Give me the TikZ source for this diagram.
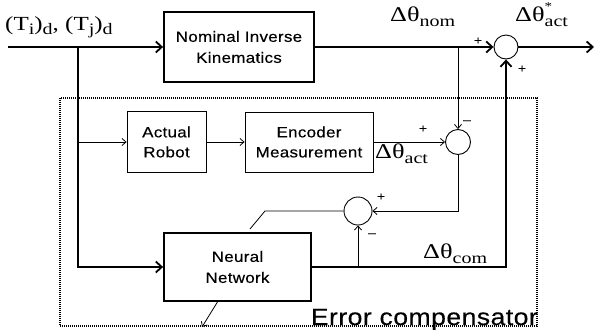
\documentclass[tikz,border=0pt]{standalone}
\usepackage{fontspec}
\setmainfont[FakeStretch=1.25]{Liberation Serif}
\newfontfamily\blockfont[FakeStretch=1.13,LetterSpace=2,FakeBold=0.3]{Liberation Sans}
\usetikzlibrary{arrows.meta}

% lowered / raised pieces for the signal names
\newcommand\lsub[2][4]{\raisebox{-#1pt}{\fontsize{16}{16}\selectfont #2}}
\newcommand\sigfont{\fontsize{21}{21}\selectfont}

\tikzset{
  heavy/.style={line width=1.8pt},
  light/.style={line width=0.8pt},
  bigtip/.style={-{Straight Barb[length=6pt,width=11pt]}},
  smalltip/.style={-{Straight Barb[length=4pt,width=7pt]}},
  block/.style={draw, rectangle, align=center, inner sep=0pt,
    font=\blockfont\fontsize{15}{21}\selectfont},
  heavyblock/.style={block, line width=1.8pt},
  lightblock/.style={block, line width=0.8pt, font=\blockfont\fontsize{15}{20}\selectfont},
  summer/.style={draw, circle, inner sep=0pt, line width=0.9pt},
  sign/.style={inner sep=0pt, font=\blockfont\fontsize{12}{12}\selectfont},
  signal/.style={inner sep=0pt, anchor=base west},
  dotbox/.style={draw, dash pattern=on 1pt off 1pt, line width=1.1pt, inner sep=0pt}
}

\begin{document}
\begin{tikzpicture}[x=1pt,y=-1pt]
  \useasboundingbox (0,0) rectangle (595,330);

  % error compensator frame
  \node[dotbox, minimum width=477pt, minimum height=228pt] (ec) at (298.5,212) {};
  \node[anchor=base east, inner sep=0pt,
        font=\blockfont\fontsize{23.5}{24}\selectfont] (eclabel) at (538,325) {Error compensator};

  % blocks
  \node[heavyblock, minimum width=150pt, minimum height=70pt] (nik) at (239,47)
    {Nominal Inverse\\Kinematics};
  \node[lightblock, minimum width=79pt, minimum height=61pt] (ar) at (166.5,142)
    {Actual\\Robot};
  \node[lightblock, minimum width=128pt, minimum height=60pt] (enc) at (309,142)
    {Encoder\\Measurement};
  \node[heavyblock, minimum width=147pt, minimum height=68pt] (nn) at (237.5,267)
    {Neural\\Network};

  % summing junctions
  \node[summer, minimum size=24pt] (c1) at (506,47) {};
  \node[summer, minimum size=25pt] (c2) at (458,142) {};
  \node[summer, minimum size=28pt] (c3) at (358,211) {};

  % signal names
  \node[signal] (tdes) at (5,30)
    {\fontsize{20}{20}\selectfont (T\lsub{i})\lsub{d}, (T\lsub{j})\lsub{d}};
  \node[signal] (dnom) at (390,21) {\sigfont Δθ\lsub[5]{nom}};
  \node[signal] (dstar) at (515,21)
    {\sigfont Δθ\rlap{\raisebox{11pt}{\fontsize{12}{12}\selectfont *}}\lsub[5]{act}};
  \node[signal] (dact) at (375,158) {\sigfont Δθ\lsub[5]{act}};
  \node[signal] (dcom) at (423,258) {\sigfont Δθ\lsub[5]{com}};

  % signs at the junctions
  \node[sign] (s1) at (478,41) {+};
  \node[sign] (s2) at (522,69) {+};
  \node[sign] (s3) at (423,129) {+};
  \node[sign] (s4) at (467,122) {–};
  \node[sign] (s5) at (381,197) {+};
  \node[sign] (s6) at (372,235) {–};

  % tap points and free ends
  \coordinate (inp) at (8,47);
  \coordinate (split) at (78,47);
  \coordinate (rtap) at (78,142);
  \coordinate (ntap) at (458,47);
  \coordinate (ctap) at (358,267);
  \coordinate (out) at (594,47);
  \coordinate (bend) at (265,211);
  \coordinate (teach) at (250,229);
  \coordinate (adapt) at (202,327);

  % main forward path
  \draw[heavy, bigtip] (inp) -- (nik.west);
  \draw[heavy, bigtip] (nik.east) -- (c1.west);
  \draw[heavy, bigtip] (c1.east) -- (out);
  \draw[heavy, bigtip] (split) |- (nn.west);
  \draw[heavy, bigtip] (nn.east) -| (c1.south);

  % measurement path
  \draw[light, smalltip] (rtap) -- (ar.west);
  \draw[light, smalltip] (ar.east) -- (enc.west);
  \draw[light, smalltip] (enc.east) -- (c2.west);
  \draw[light, smalltip] (ntap) -- (c2.north);
  \draw[light, smalltip] (c2.south) |- (c3.east);
  \draw[light, smalltip] (ctap) -- (c3.south);
  \draw[light] (c3.west) -- (bend) -- (teach);
  \draw[light, smalltip] ([xshift=-20pt]nn.south) -- (adapt);
\end{tikzpicture}
\end{document}
